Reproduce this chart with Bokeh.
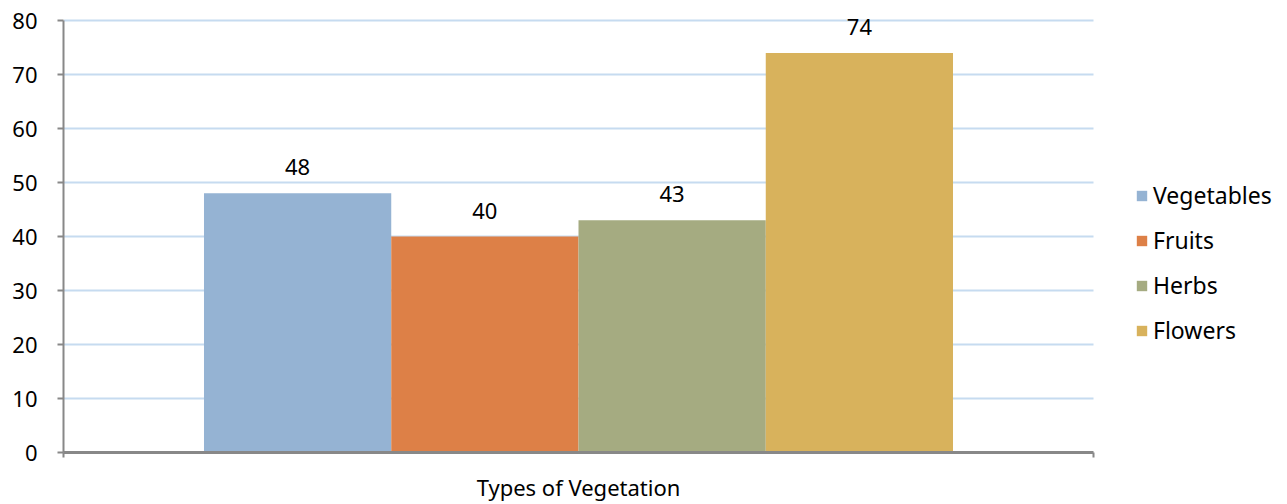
from bokeh.plotting import figure
from bokeh.models import Range1d, ColumnDataSource, LabelSet, Legend, LegendItem, FixedTicker
from bokeh.core.properties import value
from bokeh.embed import file_html
from bokeh.resources import INLINE

category = "Types of Vegetation"
series = ["Vegetables", "Fruits", "Herbs", "Flowers"]
values = [48, 40, 43, 74]
colors = ["#95B3D3", "#DD8047", "#A5AB81", "#D8B25C"]
y_ticks = [0, 10, 20, 30, 40, 50, 60, 70, 80]

FONT = "Noto Sans"
bar_w = 0.1818
axis_start, axis_end = 0.0, 1.0
center = (axis_start + axis_end) / 2

p = figure(x_range=Range1d(0, 1224 / 1030), y_range=Range1d(0, 447 / 5.4),
           width=1287, height=504, output_backend="svg", toolbar_location=None,
           min_border_left=63, min_border_right=0, min_border_top=5, min_border_bottom=52)
p.outline_line_color = None
p.xgrid.grid_line_color = None
p.ygrid.grid_line_color = None

# horizontal gridlines spanning the category axis only
grid_y = y_ticks[1:]
p.segment(x0=[axis_start] * len(grid_y), x1=[axis_end] * len(grid_y), y0=grid_y, y1=grid_y,
          line_color="#C6DBF0", line_width=2)

items = []
for i, (name, v, c) in enumerate(zip(series, values, colors)):
    xc = center + (i - (len(series) - 1) / 2) * bar_w
    src = ColumnDataSource(dict(x=[xc], y=[v], lab=[str(v)]))
    r = p.vbar(x="x", top="y", width=bar_w, source=src, fill_color=c, line_color=None)
    items.append(LegendItem(label=name, renderers=[r]))
    ls = LabelSet(x="x", y="y", text="lab", source=src,
                  text_align="center", text_baseline="alphabetic", y_offset=18,
                  text_font=value(FONT), text_font_size=value("22px"), text_color="#000000")
    p.add_layout(ls)

legend = Legend(items=items, location=(1072, 106), padding=0, margin=0,
                border_line_alpha=0, background_fill_alpha=0,
                glyph_width=13, glyph_height=13, label_height=24, spacing=13,
                label_standoff=5, label_text_font=FONT, label_text_font_size="23px",
                label_text_color="#000000")
p.add_layout(legend, "center")

p.yaxis.ticker = FixedTicker(ticks=y_ticks)
p.yaxis.bounds = (0, 80)
p.yaxis.axis_line_color = "#888888"
p.yaxis.axis_line_width = 2
p.yaxis.major_tick_line_color = "#888888"
p.yaxis.major_tick_line_width = 2
p.yaxis.major_tick_out = 6
p.yaxis.major_tick_in = 0
p.yaxis.minor_tick_line_color = None
p.yaxis.major_label_text_font = FONT
p.yaxis.major_label_text_font_size = "22px"
p.yaxis.major_label_text_color = "#000000"
p.yaxis.major_label_standoff = 20

p.xaxis.ticker = FixedTicker(ticks=[center], minor_ticks=[axis_start, axis_end])
p.xaxis.major_label_overrides = {center: category}
p.xaxis.bounds = (axis_start, axis_end)
p.xaxis.axis_line_color = "#888888"
p.xaxis.axis_line_width = 3
p.xaxis.major_tick_line_color = None
p.xaxis.major_tick_out = 0
p.xaxis.major_tick_in = 0
p.xaxis.minor_tick_line_color = "#888888"
p.xaxis.minor_tick_line_width = 2
p.xaxis.minor_tick_out = 5
p.xaxis.minor_tick_in = 0
p.xaxis.major_label_text_font = FONT
p.xaxis.major_label_text_font_size = "22px"
p.xaxis.major_label_text_color = "#000000"
p.xaxis.major_label_standoff = 14

open("out.html", "w").write(file_html(p, INLINE))
